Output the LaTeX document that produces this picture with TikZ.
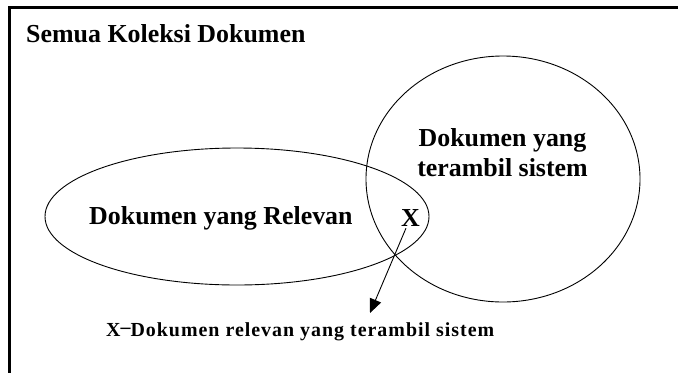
\documentclass[tikz,border=0pt]{standalone}
\usepackage{fontspec}
\setmainfont{Liberation Serif}
\usetikzlibrary{shapes.geometric,arrows.meta}
\begin{document}
\begin{tikzpicture}[x=1bp,y=-1bp,
  frame/.style={line width=3bp, line cap=butt, line join=miter},
  setshape/.style={draw, ellipse, line width=0.9bp, inner sep=0pt},
  bigtext/.style={font=\fontsize{26}{30}\selectfont\bfseries, inner sep=0pt},
  note/.style={font=\fontsize{20}{24}\selectfont\bfseries\addfontfeatures{LetterSpace=5}, inner sep=0pt},
  pointer/.style={line width=0.9bp, -{Triangle[length=14bp,width=12bp]}}]
\useasboundingbox (0,0) rectangle (678,372);
% frame of the whole collection (open to the right and bottom)
\draw[frame] (9.5,380) -- (9.5,7) -- (690,7);
\node[bigtext, anchor=base west] (title) at (26,42) {Semua Koleksi Dokumen};
% the two sets
\node[setshape, minimum width=384bp, minimum height=137bp] (rel) at (237,216.5) {};
\node[setshape, minimum width=274bp, minimum height=246bp] (ret) at (503,179) {};
\node[bigtext, anchor=base west] (reltext) at (89,224) {Dokumen yang Relevan};
\node[bigtext, align=center] (rettext) at (502.5,153) {Dokumen yang\\terambil sistem};
% intersection marker and its explanation
\node[bigtext, inner sep=2bp, anchor=base] (X) at (410.5,226) {X};
\node[note, anchor=base west] (cap) at (106,336) {X\raisebox{0.15em}{–}Dokumen relevan yang terambil sistem};
\coordinate (tip) at (370,313);
\draw[pointer] (X) -- (tip);
\end{tikzpicture}
\end{document}
